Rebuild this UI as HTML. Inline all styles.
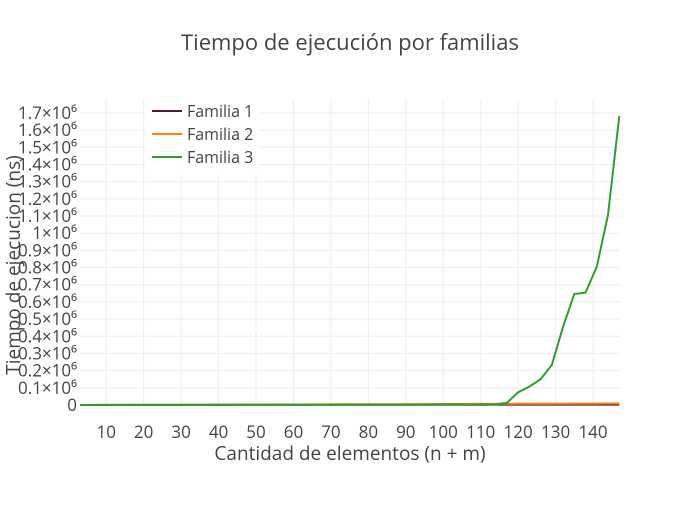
<!DOCTYPE html>
<html><head><meta charset="utf-8"><style>
body{margin:0;background:#fff;}
svg text{font-family:"Open Sans","Liberation Sans",sans-serif;fill:#444;}
</style></head><body>
<svg id="chart" width="700" height="500" xmlns="http://www.w3.org/2000/svg">
<rect width="700" height="500" fill="#fff"/>
<text x="350" y="50" text-anchor="middle" font-size="22">Tiempo de ejecución por familias</text>
<g id="grid"></g>
<g id="axes"></g>
<g id="series"></g>
<text x="350" y="460" text-anchor="middle" font-size="19">Cantidad de elementos (n + m)</text>
<text transform="translate(20,265) rotate(-90)" text-anchor="middle" font-size="19">Tiempo de ejecucion (ns)</text>
<g id="legend"></g>
</svg>
<script>
const xs = [3,6,9,12,15,18,21,24,27,30,33,36,39,42,45,48,51,54,57,60,63,66,69,72,75,78,81,84,87,90,93,96,99,102,105,108,111,114,117,120,123,126,129,132,135,138,141,144,147];
const fam1 = [200,250,300,350,400,450,500,550,600,650,700,750,800,850,900,950,1000,1050,1100,1150,1200,1250,1300,1350,1400,1450,1500,1550,1600,1650,1700,1750,1800,1850,1900,1950,2000,2050,2100,2150,2200,2250,2300,2350,2400,2450,2500,2550,2600];
const fam2 = [null,null,null,null,null,null,null,null,null,1000,1200,1400,1600,1800,2000,2200,2400,2600,2800,3000,3200,3400,3600,3800,4000,4200,4400,4600,4800,5000,5200,5400,5600,5800,6000,6200,6400,6600,6800,7000,7200,7400,7600,7800,8000,8200,8400,8600,8800];
const fam3 = [100,150,200,250,300,350,400,450,500,600,700,800,900,1000,1100,1200,1300,1400,1500,1600,1700,1800,1900,2000,2100,2200,2300,2400,2500,2600,2700,2800,2900,3000,3100,3200,3300,3500,12000,74000,107000,150000,233000,456000,646000,654000,805000,1106000,1682000];
const xTicks = [10,20,30,40,50,60,70,80,90,100,110,120,130,140];
const yTicks = [0,100000,200000,300000,400000,500000,600000,700000,800000,900000,1000000,1100000,1200000,1300000,1400000,1500000,1600000,1700000];
const yTickLabels = ["0","0.1×10⁶","0.2×10⁶","0.3×10⁶","0.4×10⁶","0.5×10⁶","0.6×10⁶","0.7×10⁶","0.8×10⁶","0.9×10⁶","1×10⁶","1.1×10⁶","1.2×10⁶","1.3×10⁶","1.4×10⁶","1.5×10⁶","1.6×10⁶","1.7×10⁶"];
const seriesNames = ["Familia 1","Familia 2","Familia 3"];
const colors = ["#4a1d3a","#ff7f0e","#2ca02c"];

const L=80,R=620,T=100,B=405;
const X0=3,X1=147.2;
function sx(v){return L+(v-X0)/(X1-X0)*(R-L);}
function sy(v){return 405-v/100000*17.18;}
const NS="http://www.w3.org/2000/svg";
function mk(tag,attrs,parent){const e=document.createElementNS(NS,tag);for(const k in attrs)e.setAttribute(k,attrs[k]);parent.appendChild(e);return e;}
const grid=document.getElementById('grid'),axes=document.getElementById('axes'),ser=document.getElementById('series'),leg=document.getElementById('legend');
xTicks.forEach(t=>{
  const l=mk('line',{x1:sx(t),x2:sx(t),y1:T,y2:B,stroke:'#eee','stroke-width':1},grid);
  
  
  const tx=mk('text',{x:sx(t),y:438,'text-anchor':'middle','font-size':17},axes);
  tx.textContent=t;
  
  
});
yTicks.forEach((t,i)=>{
  if(t>0){const l=mk('line',{x1:L,x2:R,y1:sy(t),y2:sy(t),stroke:'#eee','stroke-width':1},grid);
  
  }
  const tx=mk('text',{x:77,y:sy(t)+6,'text-anchor':'end','font-size':17},axes);
  tx.textContent=yTickLabels[i];
  
  
});
[fam1,fam2,fam3].forEach((d,si)=>{
  let p='';let first=true;
  d.forEach((v,i)=>{if(v===null)return;p+=(first?'M':'L')+sx(xs[i]).toFixed(1)+','+sy(v).toFixed(1);first=false;});
  const path=mk('path',{d:p,fill:'none',stroke:colors[si],'stroke-width':2},ser);
  
  
});
mk('rect',{x:145,y:98,width:114,height:76,fill:'#fff'},leg);
seriesNames.forEach((n,i)=>{
  const y=111+i*23;
  const l=mk('line',{x1:152,x2:182,y1:y,y2:y,stroke:colors[i],'stroke-width':2},leg);
  
  
  const t=mk('text',{x:187,y:y+6,'font-size':16},leg);
  t.textContent=n;
  
  
});
</script>
</body></html>
